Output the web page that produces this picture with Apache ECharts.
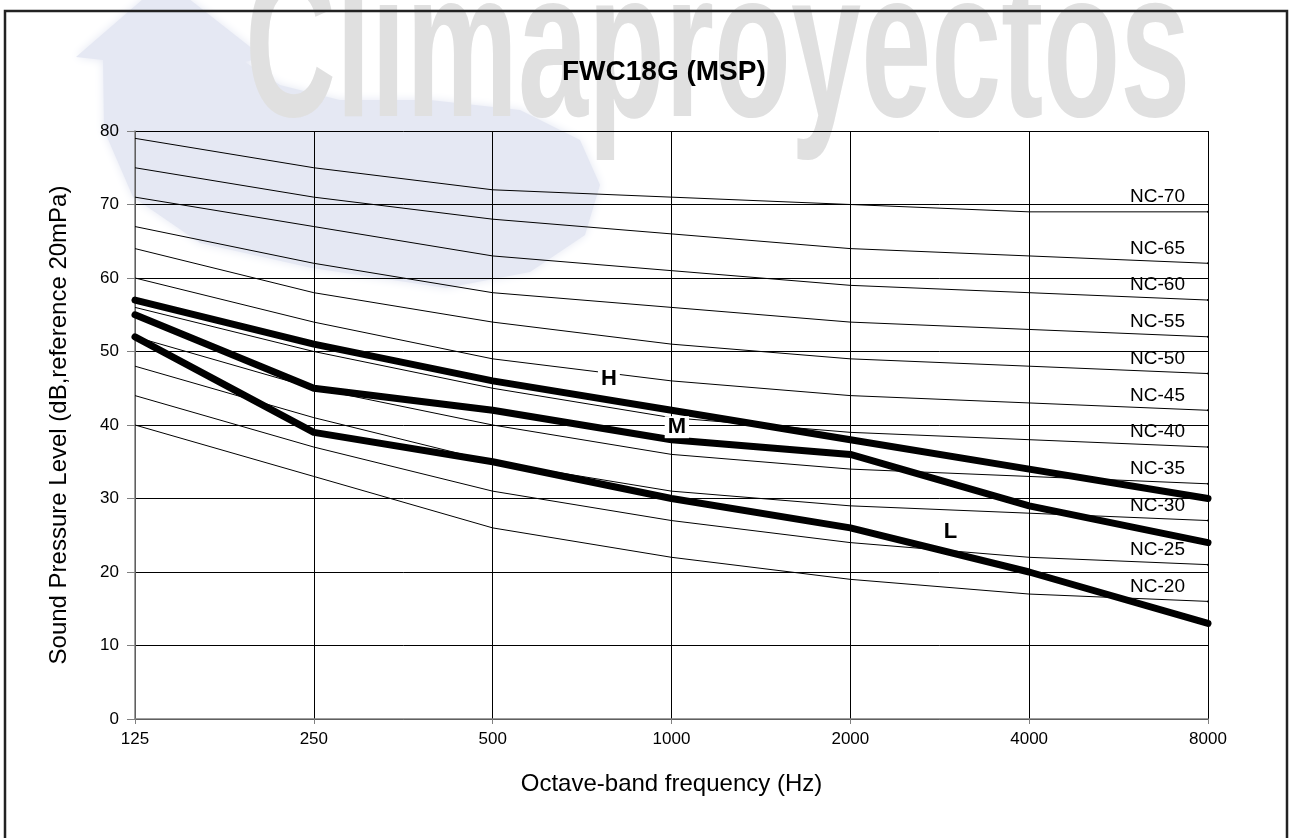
<!DOCTYPE html>
<html>
<head>
<meta charset="utf-8">
<script src="https://cdn.jsdelivr.net/npm/echarts@6/dist/echarts.min.js"></script>
<style>
html,body{margin:0;padding:0;background:#fff;}
#chart{width:1290px;height:838px;}
</style>
</head>
<body>
<div id="chart"></div>
<script>
// Octave-band centre frequencies (Hz)
const freqLabels = ['125', '250', '500', '1000', '2000', '4000', '8000'];

// NC reference curves (dB)
const ncNames = ['NC-20', 'NC-25', 'NC-30', 'NC-35', 'NC-40', 'NC-45', 'NC-50', 'NC-55', 'NC-60', 'NC-65', 'NC-70'];
const nc20 = [40, 33, 26, 22, 19, 17, 16];
const nc25 = [44, 37, 31, 27, 24, 22, 21];
const nc30 = [48, 41, 35, 31, 29, 28, 27];
const nc35 = [52, 45, 40, 36, 34, 33, 32];
const nc40 = [56, 50, 45, 41, 39, 38, 37];
const nc45 = [60, 54, 49, 46, 44, 43, 42];
const nc50 = [64, 58, 54, 51, 49, 48, 47];
const nc55 = [67, 62, 58, 56, 54, 53, 52];
const nc60 = [71, 67, 63, 61, 59, 58, 57];
const nc65 = [75, 71, 68, 66, 64, 63, 62];
const nc70 = [79, 75, 72, 71, 70, 69, 69];

// Fan speed curves (dB)
const speedNames = ['H', 'M', 'L'];
const speedH = [57, 51, 46, 42, 38, 34, 30];
const speedM = [55, 45, 42, 38, 36, 29, 24];
const speedL = [52, 39, 35, 30, 26, 20, 13];

// Where the H / M / L tags sit (band index, dB)
const tagBand = [2.65, 3.03, 4.56];
const tagLevel = [46.3, 39.7, 25.4];

const yTicks = [0, 10, 20, 30, 40, 50, 60, 70, 80];

const FONT = "'Liberation Sans', Arial, sans-serif";
const ncCurves = [nc20, nc25, nc30, nc35, nc40, nc45, nc50, nc55, nc60, nc65, nc70];
const speedCurves = [speedH, speedM, speedL];
const lastBand = freqLabels.length - 1;

function toPairs(arr) { return arr.map((v, i) => [i, v]); }

const series = [];
ncCurves.forEach((curve, k) => {
  series.push({
    type: 'line', name: ncNames[k], data: toPairs(curve), symbol: 'none', silent: true,
    lineStyle: { color: '#000', width: 1 },
    z: 3
  });
});
speedCurves.forEach((curve, k) => {
  series.push({
    type: 'line', name: speedNames[k], data: toPairs(curve), symbol: 'none', silent: true,
    lineStyle: { color: '#000', width: 7, cap: 'round', join: 'round' },
    z: 4
  });
});
// NC curve names, anchored at the end of each curve
series.push({
  type: 'scatter', name: 'ncLabels', silent: true,
  data: ncCurves.map((c, k) => ({ value: [lastBand, c[lastBand]], name: ncNames[k] })),
  symbolSize: 2, itemStyle: { color: '#000', opacity: 1 }, symbol: 'circle',
  label: { show: true, position: 'left', distance: 22, offset: [0, -15], opacity: 1,
           textBorderWidth: 0, textShadowBlur: 0,
           formatter: p => p.name, color: '#000', fontSize: 19, fontFamily: FONT },
  z: 5
});
// H / M / L tags
series.push({
  type: 'scatter', name: 'tags', silent: true,
  data: tagBand.map((b, i) => ({ value: [b, tagLevel[i]], name: speedNames[i] })),
  symbolSize: 1, itemStyle: { color: '#fff', opacity: 1 }, symbol: 'circle',
  label: { show: true, position: 'inside', formatter: p => p.name, color: '#000', opacity: 1,
           textBorderWidth: 0, textShadowBlur: 0,
           fontSize: 22, fontWeight: 'bold', fontFamily: FONT,
           backgroundColor: '#fff', padding: [0, 3] },
  z: 6
});

const chart = echarts.init(document.getElementById('chart'), null, { renderer: 'canvas' });
chart.setOption({
  backgroundColor: '#fff',
  animation: false,
  graphic: [
    { type: 'polygon', z: -20, silent: true,
      shape: { points: [[165,-20],[76,57],[103,60],[104,130],[133,197],[200,243],[312,268],[446,288],[530,272],[585,235],[600,185],[580,140],[520,110],[430,100],[340,100],[280,85],[245,62],[263,57]] },
      style: { fill: '#e5e8f3', shadowBlur: 10, shadowColor: '#e5e8f3' } },
    { type: 'text', z: -19, silent: true, x: 245, y: 58, scaleX: 0.6,
      style: { text: 'Climaproyectos', font: "bold 210px 'Liberation Sans', Arial, sans-serif",
               fill: '#e0e0e0', align: 'left', verticalAlign: 'middle',
               shadowBlur: 6, shadowColor: '#e0e0e0' } },
    { type: 'rect', z: 10, silent: true,
      shape: { x: 5, y: 11, width: 1282, height: 840 },
      style: { fill: 'none', stroke: '#222', lineWidth: 2.5 } }
  ],
  title: {
    text: 'FWC18G (MSP)', left: 557, top: 53,
    textStyle: { fontSize: 28, fontWeight: 'bold', color: '#000', fontFamily: FONT }
  },
  grid: { left: 135, right: 82, top: 131, bottom: 119, containLabel: false },
  xAxis: {
    type: 'value', min: 0, max: lastBand, interval: 1,
    name: 'Octave-band frequency (Hz)', nameLocation: 'middle', nameGap: 53,
    nameTextStyle: { fontSize: 24, color: '#000', fontFamily: FONT },
    axisLine: { show: true, lineStyle: { color: '#808080', width: 1.5 } },
    axisTick: { show: true, length: 5, inside: false, lineStyle: { color: '#808080' } },
    axisLabel: { formatter: v => freqLabels[v], fontSize: 17, color: '#000', margin: 12, fontFamily: FONT },
    splitLine: { show: true, lineStyle: { color: '#000', width: 1 } }
  },
  yAxis: {
    type: 'value', min: yTicks[0], max: yTicks[yTicks.length - 1], interval: 10,
    name: 'Sound Pressure Level (dB,reference 20mPa)', nameLocation: 'middle', nameGap: 64, nameRotate: 90,
    nameTextStyle: { fontSize: 24, color: '#000', fontFamily: FONT },
    axisLine: { show: true, lineStyle: { color: '#808080', width: 1.5 } },
    axisTick: { show: true, length: 8, inside: false, lineStyle: { color: '#808080' } },
    axisLabel: { fontSize: 17, color: '#000', margin: 16, fontFamily: FONT },
    splitLine: { show: true, lineStyle: { color: '#000', width: 1 } }
  },
  series: series
});
</script>
</body>
</html>
